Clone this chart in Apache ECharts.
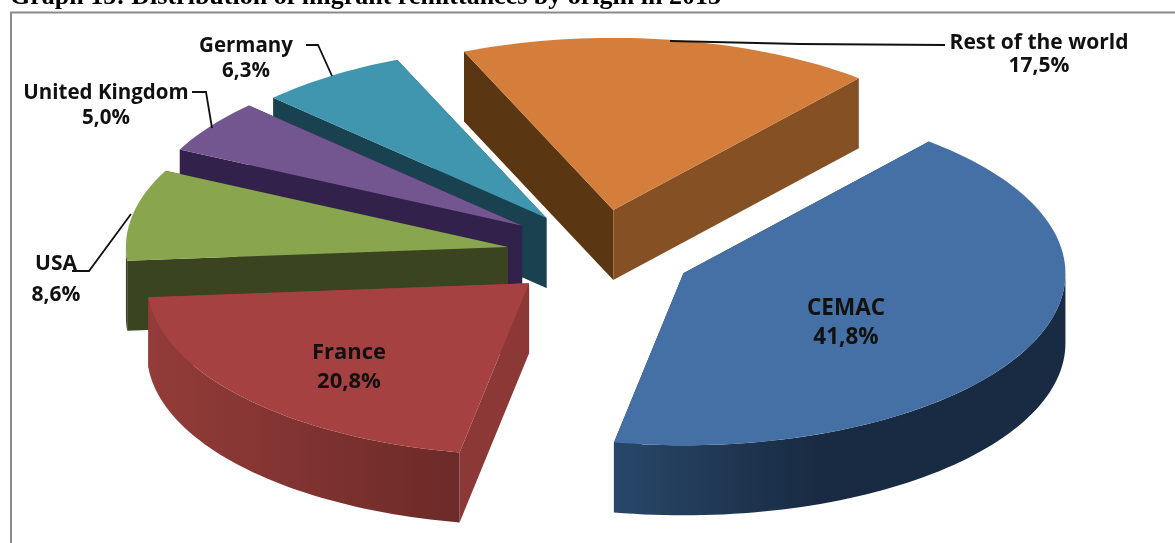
<!DOCTYPE html>
<html><head><meta charset="utf-8">
<style>html,body{margin:0;padding:0;background:#fff}#c{width:1175px;height:543px}</style>
<script src="https://cdn.jsdelivr.net/npm/echarts@6/dist/echarts.min.js"></script>
</head><body><div id="c"></div>
<script>
const categories = ['CEMAC','France','USA','United Kingdom','Germany','Rest of the world'];
const shares = [41.8,20.8,8.6,5.0,6.3,17.5];
const shareLabels = ['41,8%','20,8%','8,6%','5,0%','6,3%','17,5%'];
const explode = [0.262,0.233,0.225,0.25,0.246,0.268];
const pullAngle = [114,225,282,313,331,12];
const topColors = ['#4570a6','#a54140','#89a54e','#73558f','#4096ae','#d57e3b'];
const startWall = ['#1a2d45','#8b3836','#3a4420','#32214a','#1a4150','#5a3613'];
const endWall = ['#1a2d45','#8b3836','#3a4420','#32214a','#1a4150','#855023'];
const outerLight = ['#284769','#933c39','#3a4420','#32214a','#1a4150','#5a3613'];
const outerDark = ['#182b42','#6c2a28','#3a4420','#32214a','#1a4150','#5a3613'];
const labelAnchors = [[846,323],[349,367],[56,280],[106,106],[246,59],[1039,55]];
const labelSizes = [22.5,22,21,20.5,20.5,21];
const labelLines = [29,29,31,25,25,23];
const leaders = [
  [[670,41],[800,44],[945,45]],
  [[306,45],[318,45],[332,76]],
  [[192,92],[206,92],[212,128]],
  [[72,271],[89,271],[131,214]]
];
const titleText = 'Graph 15: Distribution of migrant remittances by origin in 2013';

const CX=592, CY=255, RX=382, RY=172, DEPTH=70, START=40;
const total = shares.reduce((a,b)=>a+b,0);
const rad = d=>d*Math.PI/180;
const pt = (a,d,r)=>[a[0]+r*RX*Math.sin(rad(d)), a[1]-r*RY*Math.cos(rad(d))];
const down = p=>[p[0],p[1]+DEPTH];
function arc(a,s,e){const out=[];const n=Math.max(2,Math.ceil((e-s)/1.5));for(let i=0;i<=n;i++)out.push(pt(a,s+(e-s)*i/n,1));return out;}
const starts=[];let acc=START;shares.forEach(v=>{starts.push(acc);acc+=v/total*360;});

function renderSlice(params,api){
  const i=api.value(1), v=api.value(0);
  const s=starts[i], e=s+v/total*360;
  const apex=pt([CX,CY],pullAngle[i],explode[i]);
  const kids=[];
  const P=(pts,fill)=>kids.push({type:'polygon',shape:{points:pts},style:{fill,stroke:null}});
  const ps=pt(apex,s,1), pe=pt(apex,e,1);
  P([apex,ps,down(ps),down(apex)],startWall[i]);
  P([apex,pe,down(pe),down(apex)],endWall[i]);
  const a0=Math.max(s,90), a1=Math.min(e,270);
  if(a1>a0){
    const top=arc(apex,a0,a1), low=top.map(down).reverse();
    kids.push({type:'polygon',shape:{points:top.concat(low)},style:{stroke:null,fill:new echarts.graphic.LinearGradient(0,0,1,0,
      i===0?[{offset:0,color:outerLight[i]},{offset:.45,color:outerDark[i]},{offset:1,color:outerDark[i]}]
           :[{offset:0,color:outerLight[i]},{offset:1,color:outerDark[i]}])}});
  }
  P([apex].concat(arc(apex,s,e)),topColors[i]);
  return {type:'group',children:kids};
}
const order=categories.map((c,i)=>i).reverse();
const chart=echarts.init(document.getElementById('c'),null,{renderer:'canvas'});
chart.setOption({
  animation:false,
  backgroundColor:'#fff',
  title:{text:titleText,left:10,top:-16,padding:0,textStyle:{fontFamily:'Liberation Serif',fontWeight:'bold',fontSize:26,color:'#000'}},
  series:[{type:'custom',coordinateSystem:'none',renderItem:renderSlice,
    data:order.map(i=>[shares[i],i]),silent:true}],
  graphic:{elements:[
    {type:'polyline',z:1,shape:{points:[[11,543],[11,12.5],[1175,12.5]]},style:{stroke:'#8a8a8a',lineWidth:2,fill:null}},
    ...leaders.map(l=>({type:'polyline',z:50,shape:{points:l},style:{stroke:'#111',lineWidth:1.8,fill:null}})),
    ...categories.map((c,i)=>({type:'text',z:60,x:labelAnchors[i][0],y:labelAnchors[i][1],
      style:{text:c+'\n'+shareLabels[i],align:'center',verticalAlign:'middle',fontFamily:'Open Sans',fontWeight:'bold',fontSize:labelSizes[i],lineHeight:labelLines[i],fill:'#111'}}))
  ]}
});
</script></body></html>
